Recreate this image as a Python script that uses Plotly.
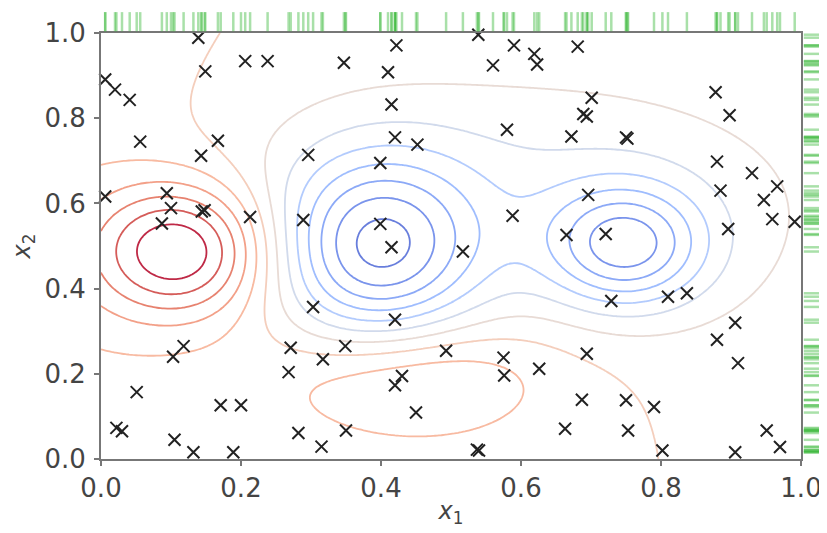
import numpy as np
import plotly.graph_objects as go

# ---- sample points (x1, x2) ----
x1_pts = [0.139, 0.149, 0.206, 0.238, 0.006, 0.020, 0.041, 0.056, 0.143, 0.167,
          0.006, 0.094, 0.100, 0.087, 0.144, 0.148, 0.213, 0.289, 0.296, 0.422,
          0.347, 0.410, 0.415, 0.420, 0.452, 0.399, 0.399, 0.580, 0.588, 0.539,
          0.590, 0.560, 0.619, 0.623, 0.672, 0.665, 0.681, 0.701, 0.689, 0.694,
          0.752, 0.750, 0.878, 0.898, 0.880, 0.930, 0.966, 0.947, 0.885, 0.696,
          0.959, 0.991, 0.896, 0.721, 0.415, 0.517, 0.303, 0.420, 0.118, 0.103,
          0.271, 0.268, 0.317, 0.349, 0.493, 0.575, 0.576, 0.430, 0.420, 0.450,
          0.051, 0.171, 0.200, 0.022, 0.030, 0.105, 0.132, 0.189, 0.282, 0.315,
          0.350, 0.537, 0.540, 0.626, 0.663, 0.729, 0.810, 0.837, 0.906, 0.880,
          0.910, 0.694, 0.687, 0.750, 0.790, 0.753, 0.802, 0.906, 0.951, 0.970]
x2_pts = [0.989, 0.910, 0.934, 0.934, 0.891, 0.867, 0.843, 0.745, 0.712, 0.747,
          0.616, 0.624, 0.589, 0.553, 0.581, 0.584, 0.568, 0.561, 0.714, 0.971,
          0.930, 0.908, 0.832, 0.755, 0.738, 0.695, 0.552, 0.773, 0.571, 0.996,
          0.971, 0.924, 0.951, 0.926, 0.757, 0.526, 0.968, 0.848, 0.810, 0.804,
          0.752, 0.755, 0.861, 0.807, 0.698, 0.671, 0.640, 0.608, 0.630, 0.620,
          0.563, 0.557, 0.540, 0.528, 0.497, 0.487, 0.357, 0.327, 0.265, 0.240,
          0.261, 0.204, 0.234, 0.265, 0.254, 0.238, 0.196, 0.195, 0.173, 0.109,
          0.157, 0.126, 0.126, 0.073, 0.065, 0.045, 0.016, 0.016, 0.061, 0.029,
          0.067, 0.022, 0.020, 0.212, 0.071, 0.371, 0.381, 0.389, 0.320, 0.280,
          0.225, 0.247, 0.139, 0.138, 0.122, 0.067, 0.020, 0.016, 0.067, 0.028]

# ---- surface components (Gaussian bumps read off the contour shapes) ----
#            red    left-bg  blue-L  blue-R  broad-neg  bottom-bg  red-ellipse  corner-neg
bump_cx  = [0.115, -0.05,    0.395,  0.75,   0.60,      0.45,      0.445,       1.05]
bump_cy  = [0.49,   0.50,    0.49,   0.50,   0.62,      0.05,      0.20,        0.10]
bump_amp = [0.59,   0.09,   -0.622, -0.53,  -0.20,      0.06,      0.20,       -0.05]
bump_sx  = [0.09,   0.15,    0.10,   0.08,   0.30,      0.25,      0.13,        0.20]
bump_sy  = [0.11,   0.40,    0.15,   0.10,   0.21,      0.20,      0.09,        0.25]

level_start, level_end, level_step = -0.8, 0.5, 0.1

tick_vals = [0.0, 0.2, 0.4, 0.6, 0.8, 1.0]
tick_text = ["0.0", "0.2", "0.4", "0.6", "0.8", "1.0"]

coolwarm = [
    [0.0, "rgb(59,76,192)"], [0.1, "rgb(84,112,222)"], [0.2, "rgb(111,146,243)"],
    [0.3, "rgb(141,176,254)"], [0.4, "rgb(170,199,253)"], [0.5, "rgb(221,220,220)"],
    [0.6, "rgb(242,203,183)"], [0.7, "rgb(247,172,142)"], [0.8, "rgb(238,132,104)"],
    [0.9, "rgb(214,82,68)"], [1.0, "rgb(180,4,38)"],
]

gx = np.linspace(0, 1, 201)
gy = np.linspace(0, 1, 201)
GX, GY = np.meshgrid(gx, gy)
Z = np.zeros_like(GX)
for cx, cy, a, sx, sy in zip(bump_cx, bump_cy, bump_amp, bump_sx, bump_sy):
    Z += a * np.exp(-((GX - cx) ** 2 / (2 * sx ** 2) + (GY - cy) ** 2 / (2 * sy ** 2)))

fig = go.Figure()
fig.add_trace(go.Contour(
    x=gx, y=gy, z=Z,
    autocontour=False,
    contours=dict(start=level_start, end=level_end, size=level_step, coloring="lines"),
    colorscale=coolwarm, zauto=False, zmin=level_start, zmax=level_end,
    line=dict(width=1.8), showscale=False, opacity=0.85, hoverinfo="skip",
))
fig.add_trace(go.Scatter(
    x=x1_pts, y=x2_pts, mode="markers", cliponaxis=False,
    marker=dict(symbol="x-thin", size=12, line=dict(width=2, color="#222")),
    showlegend=False,
))

shapes = []
for v in x1_pts:
    shapes.append(dict(type="line", xref="x", yref="paper", x0=v, x1=v, y0=1.004, y1=1.049,
                       line=dict(color="rgba(50,180,50,0.42)", width=2.5)))
for v in x2_pts:
    shapes.append(dict(type="line", xref="paper", yref="y", y0=v, y1=v, x0=1.004, x1=1.032,
                       line=dict(color="rgba(50,180,50,0.42)", width=2.5)))

axis_common = dict(
    range=[0, 1], tickvals=tick_vals, ticktext=tick_text, ticks="outside", ticklen=5,
    tickwidth=1.5, tickcolor="#777", showline=True, linecolor="#777", linewidth=2,
    mirror=True, showgrid=False, zeroline=False, automargin=False,
    tickfont=dict(family="DejaVu Sans", size=26, color="#444"),
)
# the page body adds an 8px offset, so margins are reduced accordingly
fig.update_layout(
    width=819, height=525,
    margin=dict(l=93, r=26, t=25, b=74, autoexpand=False),
    paper_bgcolor="white", plot_bgcolor="white",
    shapes=shapes, showlegend=False,
    xaxis=dict(axis_common, title=dict(text="<i>x</i><sub>1</sub>", standoff=0,
               font=dict(family="DejaVu Sans", size=24, color="#444"))),
    yaxis=dict(axis_common, ticklabelstandoff=3,
               title=dict(text="<i>x</i><sub>2</sub>", standoff=14,
               font=dict(family="DejaVu Sans", size=24, color="#444"))),
)
fig.write_html("out.html")
